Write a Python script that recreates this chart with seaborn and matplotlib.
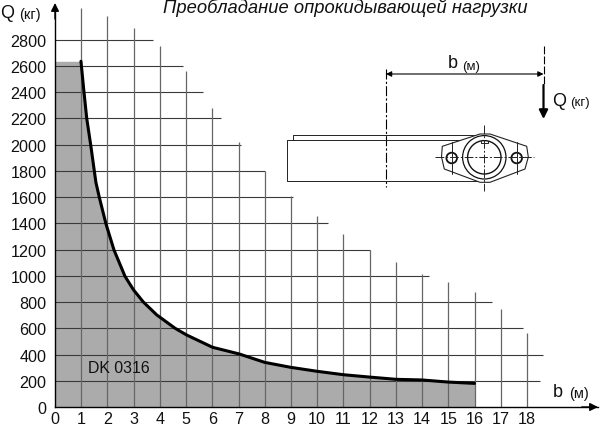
import numpy as np
import pandas as pd
import seaborn as sns
import matplotlib
matplotlib.use("Agg")
import matplotlib.pyplot as plt
from matplotlib.patches import Circle, Polygon

# curve
curve_b = [0, 0.99, 1.106, 1.21, 1.36, 1.56, 1.69, 1.945, 2.25, 2.67, 2.99, 3.37, 3.88, 4.58, 5.02, 6.01, 7.03, 8, 9, 10, 11, 12, 13, 14, 15, 16]
curve_q = [2635, 2635, 2399, 2200, 2000, 1712, 1598, 1395, 1197, 996, 894, 800, 702, 600, 549, 455, 404, 340, 302, 272, 246, 228, 211, 206, 190, 180]

# where each grid line stops
h_levels = [200, 400, 600, 800, 1000, 1200, 1400, 1600, 1800, 2000, 2200, 2400, 2600, 2800]
h_ends = [18.5, 18.6, 17.86, 16.67, 14.27, 12.0, 10.4, 9.09, 8.0, 7.09, 6.32, 5.64, 4.87, 3.73]
v_levels = list(range(1, 19))
v_tops = [3039, 2977, 2886, 2754, 2563, 2276, 2018, 1800, 1610, 1453, 1318, 1199, 1103, 1016, 950, 875, 750, 563]

x_ticks = list(range(0, 19))
y_ticks = list(range(0, 2801, 200))

sns.set_theme(style="white")
plt.rcParams['font.family'] = ['Liberation Sans', 'DejaVu Sans']

W, H = 600, 427
X0, Y0 = 55, 408
X_END, Y_END = 598, 8
PX_B = 26.22
PX_Q = 0.1312

fig = plt.figure(figsize=(6, 4.27), dpi=100)
ax = fig.add_axes([X0 / W, (H - Y0) / H, (X_END - X0) / W, (Y0 - Y_END) / H])
ax.set_xlim(0, (X_END - X0) / PX_B)
ax.set_ylim(0, (Y0 - Y_END) / PX_Q)
ax.patch.set_alpha(0)

df = pd.DataFrame({"b": curve_b, "q": curve_q})

ax.fill_between(df["b"], df["q"], color="#ababab", lw=0, zorder=1)
ax.hlines(h_levels, 0, h_ends, color="#3a3a3a", lw=0.8, zorder=2)
ax.vlines(v_levels, 0, v_tops, color="#666666", lw=0.9, zorder=2)
sns.lineplot(data=df[df["b"] >= 0.9], x="b", y="q", estimator=None, sort=False, color="black", lw=2.2,
             ax=ax, zorder=3, solid_joinstyle="round")

ax.set_xticks(x_ticks)
ax.set_yticks(y_ticks)
ax.tick_params(axis="both", length=0, labelsize=11.6, colors="#111111")
ax.tick_params(axis="x", pad=3)
ax.tick_params(axis="y", pad=6)
ax.set_xlabel("")
ax.set_ylabel("")
sns.despine(ax=ax)
for s in ["left", "bottom"]:
    ax.spines[s].set_color("black")
    ax.spines[s].set_linewidth(1.0)

# arrow heads on the axes
ax.annotate("", xy=(1, 0), xytext=(0.97, 0), xycoords="axes fraction",
            arrowprops=dict(arrowstyle="-|>", color="black", lw=1, mutation_scale=12, shrinkA=0, shrinkB=0))
ax.annotate("", xy=(0, 1.01), xytext=(0, 0.97), xycoords="axes fraction",
            arrowprops=dict(arrowstyle="-|>", color="black", lw=1, mutation_scale=12, shrinkA=0, shrinkB=0))

ax.text(1.25, 300, "DK 0316", fontsize=11.4, color="#111111", va="center", zorder=4)

# overlay in pixels for the labels and the little drawing
ov = fig.add_axes([0, 0, 1, 1])
ov.set_xlim(0, W)
ov.set_ylim(H, 0)
ov.axis("off")
ov.patch.set_alpha(0)

ov.text(0, 14, "Q", fontsize=13, va="center", color="#111111")
ov.text(19, 15, "(кг)", fontsize=10.5, va="center", color="#111111")
ov.text(345, 8, "Преобладание опрокидывающей нагрузки", fontsize=13.2, style="italic", ha="center", va="center", color="#111111")
ov.text(553, 393, "b", fontsize=13, va="center", color="#111111")
ov.text(569, 394, "(м)", fontsize=10.5, va="center", color="#111111")

dash = (0, (9, 2, 2, 2))
thin = dict(color="#222222", lw=0.7)

# dimension
ov.plot([386, 386], [70, 188], linestyle=dash, color="black", lw=0.8)
ov.plot([543.5, 543.5], [47, 87], linestyle=(0, (7, 2)), color="black", lw=0.8)
ov.annotate("", xy=(386, 75), xytext=(543.5, 75), arrowprops=dict(arrowstyle="<|-|>", color="black", lw=0.8, mutation_scale=8, shrinkA=0, shrinkB=0))
ov.text(448, 64, "b", fontsize=13, va="center", color="#111111")
ov.text(462, 67, "(м)", fontsize=9.5, va="center", color="#111111")
ov.annotate("", xy=(543.5, 120), xytext=(543.5, 86), arrowprops=dict(arrowstyle="-|>", color="black", lw=1.6, mutation_scale=13, shrinkA=0, shrinkB=0))
ov.text(552, 101, "Q", fontsize=13, va="center", color="#111111")
ov.text(570, 103, "(кг)", fontsize=9.5, va="center", color="#111111")

# arm
ov.plot([470, 287.3, 287.3, 478], [140.7, 140.7, 181.7, 181.7], **thin)
ov.plot([292.7, 292.7, 478], [140.7, 135.5, 135.5], **thin)

# hub
hub = [(442.3, 147.3), (480, 135), (490, 135), (526.7, 147.3), (528.3, 158), (525, 170), (490, 183.3), (480, 183.3), (444.3, 170), (441.5, 158)]
ov.add_patch(Polygon(hub, closed=True, fill=True, facecolor="white", edgecolor="#222222", lw=0.8, zorder=3))
for c, r, w in [((484.3, 158.3), 21.7, 0.9), ((484.3, 158.3), 16.7, 1.0), ((451.7, 159), 5.3, 1.3), ((516.7, 159), 5.3, 1.3)]:
    ov.add_patch(Circle(c, r, fill=False, edgecolor="#111111", lw=w, zorder=4))
ov.plot([481, 481, 488.3, 488.3], [141.6, 143.5, 143.5, 141.6], color="#222222", lw=0.7, zorder=4)
ov.plot([435, 534], [158.3, 158.3], linestyle=dash, color="#222222", lw=0.7, zorder=5)
ov.plot([484.3, 484.3], [126, 191.7], linestyle=dash, color="#222222", lw=0.7, zorder=5)
ov.plot([451.7, 451.7], [143, 175], **thin, zorder=5)
ov.plot([516.7, 516.7], [143, 175], **thin, zorder=5)

fig.savefig("out.png", dpi=100)
